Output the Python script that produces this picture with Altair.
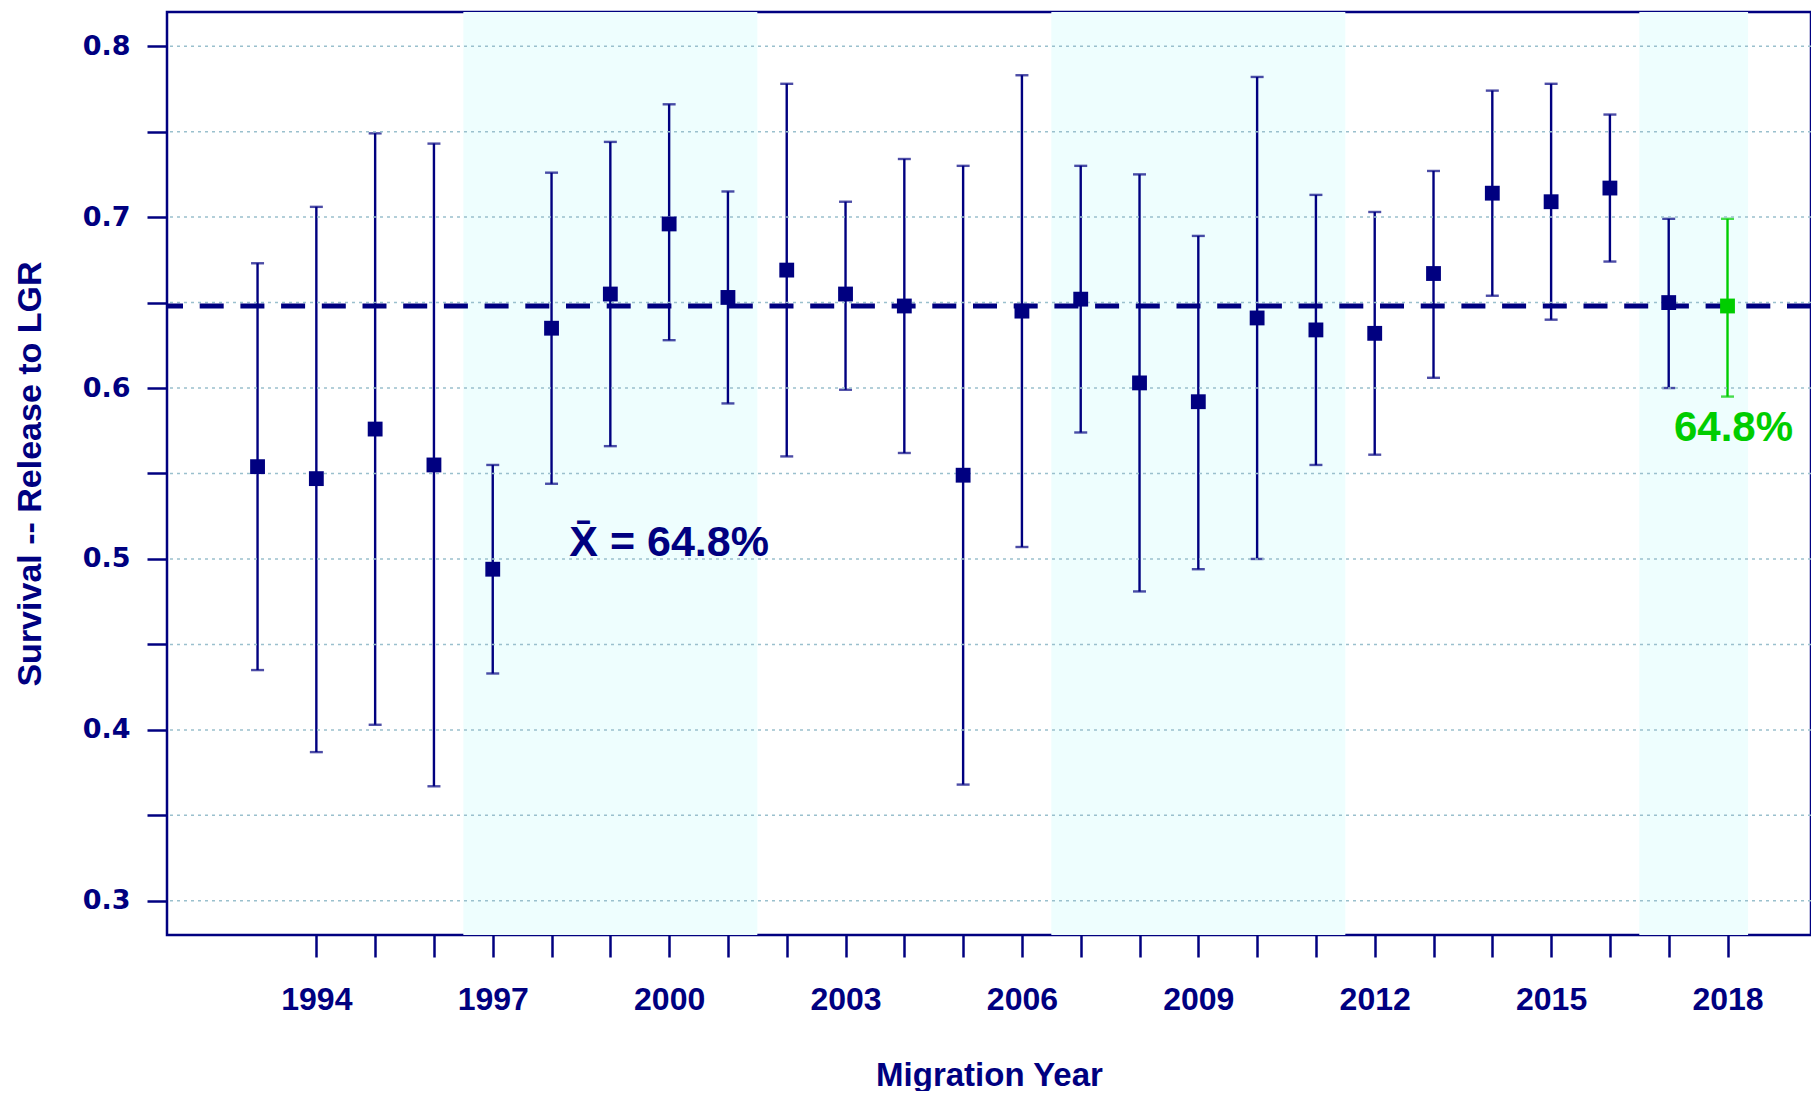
import altair as alt
import pandas as pd

# ---- data ----
years = list(range(1993, 2019))
estimate = [0.554, 0.547, 0.576, 0.555, 0.494, 0.635, 0.655, 0.696, 0.653, 0.669,
            0.655, 0.648, 0.549, 0.645, 0.652, 0.603, 0.592, 0.641, 0.634, 0.632,
            0.667, 0.714, 0.709, 0.717, 0.650, 0.648]
lower = [0.435, 0.387, 0.403, 0.367, 0.433, 0.544, 0.566, 0.628, 0.591, 0.560,
         0.599, 0.562, 0.368, 0.507, 0.574, 0.481, 0.494, 0.500, 0.555, 0.561,
         0.606, 0.654, 0.640, 0.674, 0.600, 0.595]
upper = [0.673, 0.706, 0.749, 0.743, 0.555, 0.726, 0.744, 0.766, 0.715, 0.778,
         0.709, 0.734, 0.730, 0.783, 0.730, 0.725, 0.689, 0.782, 0.713, 0.703,
         0.727, 0.774, 0.778, 0.760, 0.699, 0.699]
highlight_year = 2018
mean_value = 0.648

band_start = [1996.5, 2006.5, 2016.5]
band_end = [2001.5, 2011.5, 2018.35]

x_ticks = list(range(1994, 2019))
y_ticks = [0.30, 0.35, 0.40, 0.45, 0.50, 0.55, 0.60, 0.65, 0.70, 0.75, 0.80]

x_domain = [1991.46, 2019.42]
y_domain = [0.28, 0.82]

mean_label = f"X\u0304 = {mean_value * 100:.1f}%"
mean_label_pos = (2000, 0.502)
last_label = f"{estimate[-1] * 100:.1f}%"
last_label_pos = (2018, 0.569)

NAVY = "#000080"
GREEN = "#00CD00"
GRID = "#9AC0CD"
SHADE = "#EEFEFE"

# ---- tables ----
df = pd.DataFrame({"year": years, "est": estimate, "lo": lower, "hi": upper})
df["grp"] = ["last" if y == highlight_year else "hist" for y in years]
bands = pd.DataFrame({"start": band_start, "end": band_end})
grid = pd.DataFrame({"g": y_ticks})
mean_df = pd.DataFrame({"m": [mean_value]})
lab1 = pd.DataFrame({"x": [mean_label_pos[0]], "y": [mean_label_pos[1]], "t": [mean_label]})
lab2 = pd.DataFrame({"x": [last_label_pos[0]], "y": [last_label_pos[1]], "t": [last_label]})

x_scale = alt.Scale(domain=x_domain, nice=False, zero=False)
y_scale = alt.Scale(domain=y_domain, nice=False, zero=False)

x_axis = alt.Axis(
    values=x_ticks, grid=False, domain=False,
    tickSize=22, tickWidth=2.5, tickColor=NAVY,
    format="d",
    labelExpr="(datum.value - 1994) % 3 == 0 ? datum.label : ''",
    labelFont="Liberation Sans", labelFontWeight="bold", labelFontSize=32,
    labelColor=NAVY, labelPadding=27, labelOverlap=False, labelFlush=False,
    labelBound=False,
    titleFont="Liberation Sans", titleFontWeight="bold", titleFontSize=33,
    titleColor=NAVY, titleBaseline="alphabetic", titleY=150,
)
y_axis = alt.Axis(
    values=y_ticks, grid=False, domain=False,
    tickSize=20, tickWidth=2.5, tickColor=NAVY,
    labelExpr="round(datum.value * 100) % 10 == 0 ? format(datum.value, '.1f') : ''",
    labelFont="DejaVu Sans", labelFontWeight="bold", labelFontSize=27,
    labelColor=NAVY, labelPadding=17, labelOverlap=False, labelFlush=False,
    labelBound=False,
    titleFont="Liberation Sans", titleFontWeight="bold", titleFontSize=34,
    titleColor=NAVY, titleBaseline="alphabetic", titleAngle=270,
    titleX=-127, titleY=461.5,
)

X_TITLE = "Migration Year"
Y_TITLE = "Survival -- Release to LGR"

def X(field, **kw):
    return alt.X(field, type="quantitative", scale=x_scale, axis=x_axis, title=X_TITLE, **kw)

def Y(field, **kw):
    return alt.Y(field, type="quantitative", scale=y_scale, axis=y_axis, title=Y_TITLE, **kw)

color_enc = alt.Color("grp:N", scale=alt.Scale(domain=["hist", "last"], range=[NAVY, GREEN]), legend=None)

shade = alt.Chart(bands).mark_rect(color=SHADE).encode(
    x=X("start"), x2="end"
)

bars = alt.Chart(df).mark_rule(strokeWidth=2.4).encode(
    x=X("year"), y=Y("lo"), y2="hi", color=color_enc
)
cap_hi = alt.Chart(df).mark_tick(orient="horizontal", size=13, thickness=2.4).encode(
    x=X("year"), y=Y("hi"), color=color_enc
)
cap_lo = alt.Chart(df).mark_tick(orient="horizontal", size=13, thickness=2.4).encode(
    x=X("year"), y=Y("lo"), color=color_enc
)

gridlines = alt.Chart(grid).mark_rule(color=GRID, strokeDash=[3, 4], strokeWidth=1.5).encode(
    y=Y("g")
)

mean_line = alt.Chart(mean_df).mark_rule(color=NAVY, strokeDash=[24, 16.7], strokeWidth=5).encode(
    y=Y("m")
)

points = alt.Chart(df).mark_square(size=220, opacity=1).encode(
    x=X("year"), y=Y("est"), color=color_enc
)

text1 = alt.Chart(lab1).mark_text(
    font="Liberation Sans", fontWeight="bold", fontSize=43, color=NAVY,
    align="center", baseline="alphabetic"
).encode(x=X("x"), y=Y("y"), text="t:N")

text2 = alt.Chart(lab2).mark_text(
    font="Liberation Sans", fontWeight="bold", fontSize=42, color=GREEN,
    align="center", baseline="alphabetic", dx=6
).encode(x=X("x"), y=Y("y"), text="t:N")

chart = alt.layer(
    shade, bars, cap_hi, cap_lo, gridlines, mean_line, points, text1, text2
).properties(
    width=1644, height=923,
    background="white",
    autosize=alt.AutoSizeParams(type="none"),
    padding={"left": 159, "top": 4, "right": 0, "bottom": 156},
).configure_view(
    stroke=NAVY, strokeWidth=2.5
)

chart.save("out.html", embed_options={"renderer": "svg", "actions": False})
